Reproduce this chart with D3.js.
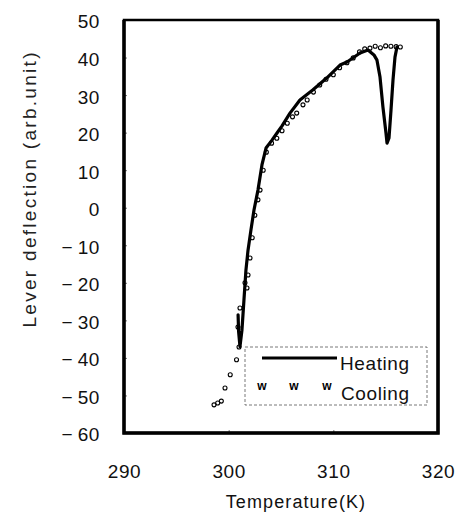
<!DOCTYPE html>
<html>
<head>
<meta charset="utf-8">
<script src="https://cdn.jsdelivr.net/npm/d3@7"></script>
<style>
  body { margin: 0; background: #fff; }
  svg { display: block; font-family: "Liberation Sans", Arial, sans-serif; }
</style>
</head>
<body>
<svg id="chart" width="461" height="514"></svg>
<script>
// Heating curve (thick line)
const heatingT = [300.9, 300.95, 301.08, 301.27, 301.46, 301.65, 301.85, 302.13, 302.42, 302.8, 303.18, 303.57, 304.14, 304.62, 305.1, 305.86, 306.81, 308.06, 309.39, 310.64, 311.31, 312.55, 313.31, 313.88, 314.17, 314.46, 314.74, 315.03, 315.13, 315.32, 315.51, 315.7, 315.89, 316.08];
const heatingV = [-28.5, -33, -37, -32.6, -24.6, -16.6, -11.3, -5.9, -0.6, 4.7, 11.4, 15.9, 18.0, 19.9, 21.8, 25.2, 28.7, 31.4, 34.6, 38.0, 38.8, 41.2, 42.0, 40.7, 39.3, 34.8, 26.8, 19.9, 17.2, 18.6, 26.0, 34.0, 40.1, 42.8];

// Cooling points (markers)
const coolingT = [298.6, 298.95, 299.3, 299.65, 300.15, 300.75, 300.99, 300.89, 301.08, 301.56, 301.75, 301.85, 302.04, 302.25, 302.5, 302.8, 303.0, 303.3, 303.6, 304.1, 304.6, 305.1, 305.6, 306.1, 306.5, 307.1, 307.5, 308.1, 308.7, 309.3, 310.0, 310.6, 311.3, 311.9, 312.5, 313.0, 313.5, 314.0, 314.5, 315.0, 315.5, 316.0, 316.4];
const coolingV = [-52.5, -52, -51.5, -48, -44.5, -40.5, -37.1, -31.8, -26.7, -20.0, -21.4, -17.9, -13.4, -8, -2, 2.1, 4.7, 10.0, 14.8, 17.2, 18.5, 20.5, 22.5, 24.2, 25.2, 27.4, 28.7, 30.8, 32.7, 34.2, 35.4, 37.3, 38.6, 39.9, 41.5, 42.3, 42.5, 43.0, 42.6, 43.1, 43.0, 42.9, 42.8];

const xTicks = [290, 300, 310, 320];
const yTicks = [50, 40, 30, 20, 10, 0, -10, -20, -30, -40, -50, -60];

const svg = d3.select('#chart');
const plotLeft = 124, plotRight = 438, plotTop = 20, plotBottom = 433;

const x = d3.scaleLinear().domain([290, 320]).range([plotLeft, plotRight]);
const y = d3.scaleLinear().domain([-60, 50]).range([plotBottom, plotTop]);

const fmt = d => d < 0 ? '\u2212\u2009' + Math.abs(d) : String(d);

// Axes
const yAxis = svg.append('g')
    .attr('transform', `translate(${plotLeft},0)`)
    .call(d3.axisLeft(y).tickValues(yTicks).tickSize(-3).tickPadding(24).tickFormat(fmt));
const xAxis = svg.append('g')
    .attr('transform', `translate(0,${plotBottom})`)
    .call(d3.axisBottom(x).tickValues(xTicks).tickSize(-3).tickPadding(32).tickFormat(d3.format('d')));

[yAxis, xAxis].forEach(g => {
    g.select('.domain').remove();
    g.selectAll('.tick line').attr('stroke', '#555').attr('stroke-width', 0.8);
    g.selectAll('.tick text')
        .attr('font-size', 19)
        .attr('font-family', '"Liberation Sans", Arial, sans-serif')
        .attr('fill', '#111')
        .attr('letter-spacing', 0.6);
});
yAxis.selectAll('.tick text').attr('dy', '0.42em');

// Frame
svg.append('rect')
    .attr('x', plotLeft).attr('y', plotTop)
    .attr('width', plotRight - plotLeft).attr('height', plotBottom - plotTop)
    .attr('fill', 'none').attr('stroke', '#000').attr('stroke-width', 2.5);
svg.append('path')
    .attr('d', `M${plotLeft},${plotTop} V${plotBottom} H${plotRight} V${plotTop}`)
    .attr('fill', 'none').attr('stroke', '#000').attr('stroke-width', 3.5);

// Heating line
const heatData = heatingT.map((t, i) => [t, heatingV[i]]);
svg.append('path')
    .datum(heatData)
    .attr('d', d3.line().x(d => x(d[0])).y(d => y(d[1])))
    .attr('fill', 'none')
    .attr('stroke', '#000')
    .attr('stroke-width', 3.2)
    .attr('stroke-linejoin', 'round')
    .attr('stroke-linecap', 'round');

// Cooling markers
const coolData = coolingT.map((t, i) => [t, coolingV[i]]);
svg.append('g').selectAll('circle')
    .data(coolData)
    .enter()
    .append('circle')
    .attr('cx', d => x(d[0]))
    .attr('cy', d => y(d[1]))
    .attr('r', 2)
    .attr('fill', 'none')
    .attr('stroke', '#000')
    .attr('stroke-width', 1.1);

// Legend
const legend = svg.append('g');
legend.append('rect')
    .attr('x', 245).attr('y', 347).attr('width', 182).attr('height', 58)
    .attr('fill', '#fff').attr('stroke', '#555').attr('stroke-width', 0.8)
    .attr('stroke-dasharray', '3,2');
legend.append('line')
    .attr('x1', 262).attr('x2', 337).attr('y1', 358).attr('y2', 358)
    .attr('stroke', '#000').attr('stroke-width', 3.2);
legend.append('text')
    .attr('x', 340).attr('y', 370)
    .attr('font-size', 19).attr('letter-spacing', 0.6)
    .attr('fill', '#111')
    .text('Heating');
legend.selectAll('.w')
    .data([262, 294, 327])
    .enter()
    .append('text')
    .attr('x', d => d).attr('y', 390)
    .attr('text-anchor', 'middle')
    .attr('font-size', 12).attr('font-weight', 'bold')
    .attr('fill', '#000')
    .text('w');
legend.append('text')
    .attr('x', 341).attr('y', 400)
    .attr('font-size', 19).attr('letter-spacing', 0.6)
    .attr('fill', '#111')
    .text('Cooling');

// Axis titles
svg.append('text')
    .attr('x', 296).attr('y', 508)
    .attr('text-anchor', 'middle')
    .attr('font-size', 18).attr('letter-spacing', 1.1)
    .attr('fill', '#111')
    .text('Temperature(K)');
svg.append('text')
    .attr('transform', 'translate(36,190) rotate(-90)')
    .attr('text-anchor', 'middle')
    .attr('font-size', 19)
    .attr('textLength', 275).attr('lengthAdjust', 'spacing')
    .attr('fill', '#222')
    .text('Lever deflection (arb.unit)');
</script>
</body>
</html>
